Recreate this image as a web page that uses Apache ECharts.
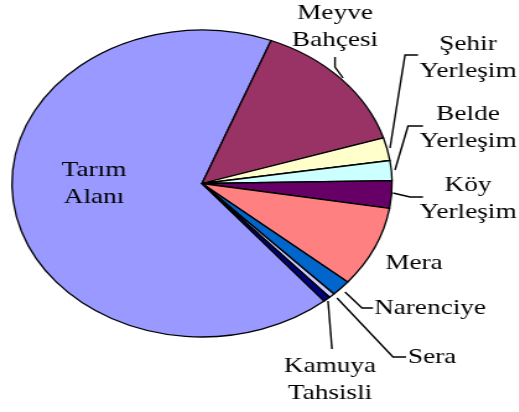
<!DOCTYPE html>
<html>
<head>
<meta charset="utf-8">
<script src="https://cdn.jsdelivr.net/npm/echarts@6/dist/echarts.min.js"></script>
<style>
  html, body { margin: 0; padding: 0; background: #fff; }
  #wrap { position: relative; width: 519px; height: 412px; overflow: hidden; }
  /* the reference pie is an ellipse: draw a circle and stretch it sideways */
  #main { position: absolute; left: 0; top: 0; width: 420px; height: 412px;
          transform: scaleX(1.238); transform-origin: 0 0; }
</style>
</head>
<body>
<div id="wrap"><div id="main"></div></div>
<script>
// categories and shares (%)
var categories = ['Tarım Alanı', 'Meyve Bahçesi', 'Şehir Yerleşim', 'Belde Yerleşim',
                  'Köy Yerleşim', 'Mera', 'Narenciye', 'Sera', 'Kamuya Tahsisli'];
var values = [67.1, 14.3, 2.4, 2.1, 2.9, 8.5, 1.7, 0.5, 0.6];
var colors = ['#9999FF', '#993366', '#FFFFCC', '#CCFFFF', '#660066',
              '#FF8080', '#0066CC', '#CCCCFF', '#000080'];

var SX = 1.238; // horizontal stretch of the chart div

// label centres, in picture pixels
var labelPos = [[94, 183.5], [335, 27], [468, 58], [468, 127.5], [468, 198.5],
                [414, 263], [430, 308], [432, 357], [330, 380]];
// leader lines, in picture pixels (null = none)
var leaderLines = [
  null,
  [[343, 78], [335, 67], [335, 57]],
  [[390, 148], [405, 55], [418, 55]],
  [[395, 170], [408, 126], [423, 126]],
  [[393, 193], [410, 197], [423, 197]],
  null,
  [[345, 292], [362, 308], [373, 308]],
  [[337, 298], [393, 357], [406, 357]],
  [[328, 301], [330, 325], [332, 349]]
];

function toDiv(p) { return [p[0] / SX, p[1]]; }

var data = [];
for (var i = 0; i < categories.length; i++) {
  data.push({
    name: categories[i],
    value: values[i],
    itemStyle: { color: colors[i] },
    labelLine: { show: leaderLines[i] != null }
  });
}

var myChart = echarts.init(document.getElementById('main'));
myChart.setOption({
  animation: false,
  textStyle: { fontFamily: 'Liberation Serif, serif' },
  series: [{
    type: 'pie',
    center: [202 / SX, 183.5],
    radius: 153.5,
    startAngle: -50,
    clockwise: true,
    avoidLabelOverlap: false,
    data: data,
    itemStyle: { borderColor: '#000', borderWidth: 1.3 },
    label: {
      show: true,
      formatter: function (p) { return p.name.replace(' ', '\n'); },
      fontFamily: 'Liberation Serif, serif',
      fontSize: 22,
      lineHeight: 27,
      color: '#000'
    },
    labelLine: { show: true, lineStyle: { color: '#000', width: 1.4 } },
    labelLayout: function (params) {
      var i = params.dataIndex;
      var p = toDiv(labelPos[i]);
      var out = { x: p[0], y: p[1], align: 'center', verticalAlign: 'middle', hideOverlap: false };
      if (leaderLines[i]) out.labelLinePoints = leaderLines[i].map(toDiv);
      return out;
    },
    emphasis: { disabled: true }
  }]
});
</script>
</body>
</html>
